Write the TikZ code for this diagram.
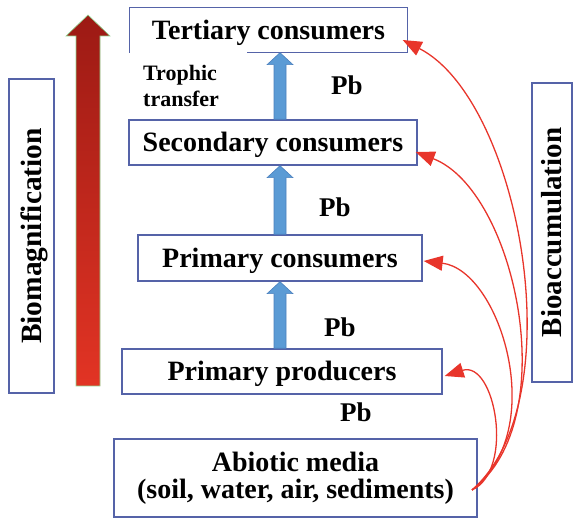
\documentclass[tikz,border=0pt]{standalone}
\usepackage{fontspec}
\setmainfont{Liberation Serif}
\usetikzlibrary{arrows.meta,calc}
\definecolor{boxline}{HTML}{5563A8}
\definecolor{flowblue}{HTML}{5B9BD5}
\definecolor{flowedge}{HTML}{4A80BE}
\definecolor{leadred}{HTML}{E8352B}
\definecolor{magtop}{HTML}{9C1A14}
\definecolor{magbot}{HTML}{E23424}
\definecolor{magedge}{HTML}{8FD48F}
\begin{document}
\begin{tikzpicture}[x=1pt,y=-1pt,
  lvl/.style={draw=boxline, line width=1.4pt, inner sep=0pt, align=center,
    font=\fontsize{28}{27}\selectfont\bfseries},
  oneline/.style={lvl, text height=18.5pt, text depth=0pt},
  side/.style={draw=boxline, line width=1.4pt, inner sep=0pt, rotate=90,
    text height=19.2pt, text depth=0pt},
  pb/.style={inner sep=0pt, font=\fontsize{27}{30}\selectfont\bfseries},
  note/.style={inner sep=0pt, align=left, font=\fontsize{22}{26}\selectfont\bfseries},
  uptake/.style={draw=leadred, line width=1.3pt, -{Triangle[length=19pt,width=15pt]}},
  flow/.style={fill=flowblue, draw=flowedge, line width=0.6pt},
]
\useasboundingbox (0,0) rectangle (576,518);

% trophic levels
\node[oneline, draw=none, minimum width=277, minimum height=44] (ter) at (268.5,30) {Tertiary consumers};
\draw[boxline, line width=1.4pt] ($(ter.south west)+(118,0)$) -- (ter.south east)
  -- (ter.north east) -- (ter.north west) -- (ter.south west);
\node[oneline, minimum width=288, minimum height=45] (sec) at (273,142.5) {Secondary consumers};
\node[oneline, minimum width=284, minimum height=46] (pc) at (280,258) {Primary consumers};
\node[oneline, minimum width=320, minimum height=45] (pro) at (282,371.5) {Primary producers};
\node[lvl, minimum width=363, minimum height=78] (abi) at (295.5,478) {Abiotic media\\(soil, water, air, sediments)};

% side panels
\node[side, font=\fontsize{29.4}{30}\selectfont\bfseries, minimum width=314, minimum height=45] (mag) at (31.5,236) {Biomagnification\hspace{8pt}};
\node[side, font=\fontsize{29}{30}\selectfont\bfseries, minimum width=299, minimum height=40] (acc) at (552,232.5) {Bioaccumulation};

% biomagnification arrow
\path[draw=magedge, line width=0.6pt, top color=magtop, bottom color=magbot]
  (76,386) -- (76,36) -- (66,36) -- (88,15) -- (110,36) -- (100,36) -- (100,386) -- cycle;

% trophic transfer arrows
\coordinate (axis) at (280,0);
\foreach \lo/\hi in {sec/ter, pc/sec, pro/pc}{
  \path[flow] ($(axis |- \lo.north)+(-6,0)$) -- ($(axis |- \hi.south)+(-6,12)$)
    -- ($(axis |- \hi.south)+(-13,12)$) -- (axis |- \hi.south)
    -- ($(axis |- \hi.south)+(13,12)$) -- ($(axis |- \hi.south)+(6,12)$)
    -- ($(axis |- \lo.north)+(6,0)$) -- cycle;
}

\node[note, anchor=west] (tt) at (143,86) {Trophic\\transfer};

\node[pb] (pb1) at (347,85) {Pb};
\node[pb] (pb2) at (335,207) {Pb};
\node[pb] (pb3) at (340,327) {Pb};
\node[pb] (pb4) at (356,412) {Pb};

% uptake from abiotic media
\coordinate (src) at (472,490);
\coordinate (t1) at ($(pro.east)+(2,4.5)$);
\coordinate (t2) at ($(pc.east)+(1,3)$);
\coordinate (t3) at ($(sec.east)+(-2,9.5)$);
\coordinate (t4) at ($(ter.east)+(-5,10)$);
\draw[uptake] (src) .. controls (515,470) and (495,360) .. (t1);
\draw[uptake] (src) .. controls (550,430) and (500,270) .. (t2);
\draw[uptake] (src) .. controls (565,420) and (515,190) .. (t3);
\draw[uptake] (src) .. controls (575,400) and (520,100) .. (t4);
\end{tikzpicture}
\end{document}
